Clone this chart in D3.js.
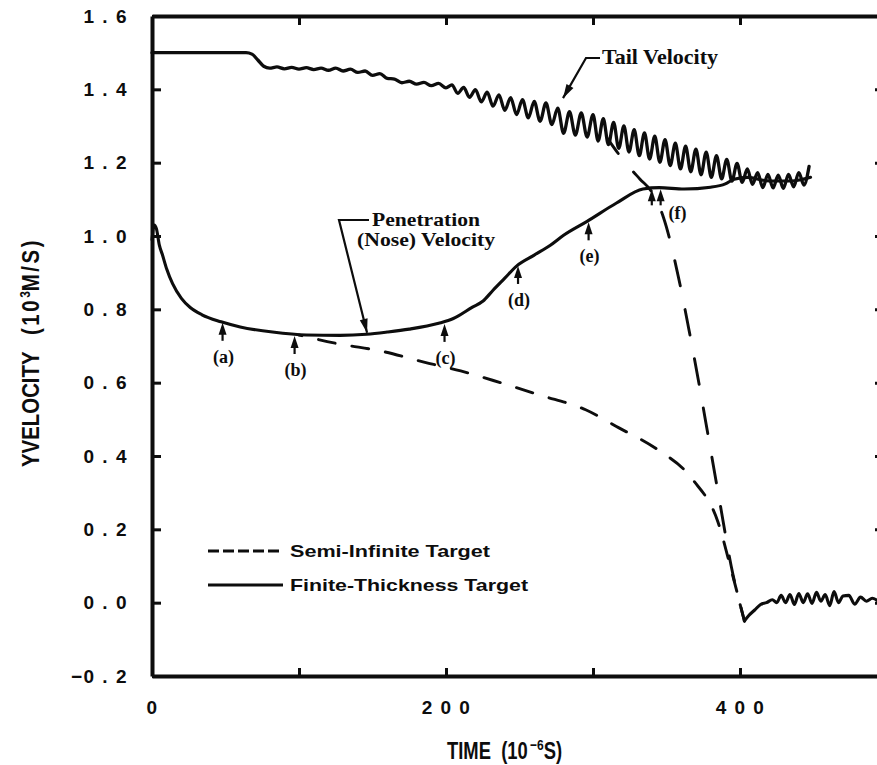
<!DOCTYPE html>
<html>
<head>
<meta charset="utf-8">
<script src="https://cdn.jsdelivr.net/npm/d3@7"></script>
<style>
  body { margin: 0; background: #fff; }
</style>
</head>
<body>
<svg id="chart" width="877" height="765"></svg>
<script>
// time in 10^-6 s, velocity in 10^3 m/s
const tailFinite = [
  [0,1.500],[30,1.500],[64,1.500],[68,1.496],[72,1.480],[76,1.463],[80,1.458],[85,1.461],[90,1.456],[95,1.460],
  [100,1.455],[105,1.459],[110,1.454],[115,1.458],[120,1.452],[125,1.458],[130,1.450],[135,1.455],[140,1.446],[145,1.450],
  [150,1.438],[155,1.443],[160,1.430],[165,1.428],[170,1.418],[175,1.422],[180,1.414],[185,1.419],[190,1.410],[195,1.416],
  [200,1.404],[204,1.412],[208,1.389],[212,1.405],[216,1.378],[220,1.399],[224,1.366],[228,1.392],[232,1.354],[236,1.385],
  [240,1.343],[244,1.377],[248,1.331],[252,1.372],[256,1.322],[260,1.367],[264,1.313],[268,1.363],[272,1.304],[276,1.349],
  [280,1.280],[284,1.339],[288,1.275],[292,1.336],[296,1.270],[300,1.331],[303.5,1.259],[307,1.320],[310.5,1.249],[314,1.310],
  [317.5,1.239],[321,1.300],[324.5,1.229],[328,1.290],[331.5,1.219],[335,1.281],[338.5,1.210],[342,1.272],[345.5,1.201],[349,1.263],
  [352.5,1.192],[356,1.253],[359.5,1.183],[363,1.245],[366.5,1.175],[370,1.237],[373.5,1.167],[377,1.229],[380.5,1.160],[384,1.219],
  [387.5,1.156],[391,1.209],[394.5,1.150],[398,1.198],[401.5,1.146],[405,1.183],[408.5,1.141],[412,1.173],[415.5,1.132],[419,1.168],
  [422.5,1.131],[426,1.166],[429.5,1.130],[433,1.168],[436.5,1.134],[440,1.173],[443.5,1.139],[447,1.190]
];

const noseFinite = [
  [0,0.990],[1.5,1.030],[3,1.020],[5,0.975],[7,0.950],[10,0.910],[14,0.870],[20,0.830],[26,0.805],[34,0.785],
  [47,0.766],[60,0.752],[82,0.738],[105,0.730],[128,0.729],[146,0.732],[160,0.738],[175,0.746],[195,0.762],[205,0.775],
  [218,0.806],[225,0.822],[232,0.852],[240,0.885],[248,0.918],[260,0.948],[271,0.975],[280,1.002],[296,1.040],[316,1.090],
  [334,1.128],[345,1.132],[362,1.128],[380,1.133],[390,1.142],[396,1.155],[405,1.160],[420,1.150],[435,1.150],[448,1.160]
];

const noseSemi = [
  [100,0.730],[128,0.705],[155,0.687],[185,0.656],[210,0.632],[237,0.600],[264,0.566],[295,0.526],[318,0.476],[343,0.420],
  [368,0.335],[385,0.220],[394,0.090],[403,-0.050]
];

const tailSemi = [
  [310,1.265],[323,1.195],[332,1.155],[340,1.120],[348,1.050],[358,0.890],[365,0.750],[372,0.600],[379,0.440],[386,0.280],
  [394,0.100],[403,-0.050]
];

const residual = [
  [403,-0.050],[406,-0.035],[410,-0.020],[414,-0.005],[418,0.000],[422,0.008],[425,0.000],[428,0.020],[431,0.000],[434,0.022],
  [437,-0.005],[440,0.025],[443,0.000],[446,0.024],[449,-0.002],[452,0.028],[455,0.004],[458,0.022],[461,-0.008],[464,0.030],
  [467,0.000],[470,0.018],[474,0.020],[478,-0.004],[482,0.015],[486,0.004],[490,0.012],[494,0.004]
];

const markers = [
  { label: '(a)', t: 48, v: 0.766 },
  { label: '(b)', t: 97, v: 0.730 },
  { label: '(c)', t: 199, v: 0.763 },
  { label: '(d)', t: 249, v: 0.921 },
  { label: '(e)', t: 297, v: 1.040 }
];
const markerF = [{ t: 340, v: 1.130 }, { t: 346, v: 1.130 }];

const yTickValues = [-0.2, 0, 0.2, 0.4, 0.6, 0.8, 1.0, 1.2, 1.4, 1.6];
const xTickValues = [0, 100, 200, 300, 400];
const xLabelled = [0, 200, 400];

const legendItems = [
  { name: 'Semi-Infinite Target', dash: '11,4', len: 200 },
  { name: 'Finite-Thickness Target', dash: null, len: 238 }
];

(() => {
  const svg = d3.select('#chart');
  svg.append('rect').attr('width', 877).attr('height', 765).attr('fill', '#fff');

  const x = d3.scaleLinear().domain([0, 500]).range([152, 887]);
  const y = d3.scaleLinear().domain([-0.2, 1.6]).range([676, 16]);
  const ink = '#0d0d0d';
  const sans = '"Liberation Sans", Arial, sans-serif';
  const serif = '"Liberation Serif", "Times New Roman", serif';

  const line = d3.line()
    .x(d => x(d[0]))
    .y(d => y(d[1]))
    .curve(d3.curveMonotoneX);

  // curves
  const curves = svg.append('g').attr('fill', 'none').attr('stroke', ink)
    .attr('stroke-linejoin', 'round').attr('stroke-linecap', 'round');
  curves.append('path').datum(tailFinite).attr('d', line).attr('stroke-width', 3.3);
  curves.append('path').datum(noseFinite).attr('d', line).attr('stroke-width', 3.1);
  curves.append('path').datum(noseSemi).attr('d', line).attr('stroke-width', 2.9)
    .attr('stroke-dasharray', '17,17').attr('stroke-dashoffset', -20);
  curves.append('path').datum(tailSemi).attr('d', line).attr('stroke-width', 2.9)
    .attr('stroke-dasharray', '26,24').attr('stroke-dashoffset', 8);
  curves.append('path').datum(residual).attr('d', line).attr('stroke-width', 3.1);

  // axes
  const fmtY = d => d3.format('.1f')(d).replace('.', ' . ');
  const fmtX = d => xLabelled.includes(d) ? String(d).split('').join(' ') : '';

  const styleAxis = (g) => {
    g.attr('color', ink);
    g.select('.domain').attr('stroke-width', 4);
    g.selectAll('.tick line').attr('stroke-width', 3);
    g.selectAll('text')
      .attr('font-family', sans)
      .attr('font-weight', 'bold')
      .attr('font-size', 19)
      .style('letter-spacing', '1.5px')
      .style('white-space', 'pre');
  };

  svg.append('g').attr('transform', 'translate(152,0)')
    .call(d3.axisLeft(y).tickValues(yTickValues).tickSize(-9).tickSizeOuter(0).tickPadding(24).tickFormat(fmtY))
    .call(styleAxis);

  svg.append('g').attr('transform', 'translate(0,676)')
    .call(d3.axisBottom(x).tickValues(xTickValues).tickSize(-8).tickSizeOuter(0).tickPadding(25).tickFormat(fmtX))
    .call(styleAxis);

  svg.append('g').attr('transform', 'translate(0,16)')
    .call(d3.axisTop(x).tickValues(xTickValues.slice(1)).tickSize(-9).tickSizeOuter(0).tickFormat(''))
    .call(styleAxis);

  svg.append('g').attr('transform', 'translate(887,0)')
    .call(d3.axisRight(y).tickValues(yTickValues).tickSize(-12).tickSizeOuter(0).tickFormat(''))
    .call(styleAxis);

  // axis titles
  const xt = svg.append('text')
    .attr('transform', 'translate(447,759) scale(0.8,1)')
    .attr('font-family', sans).attr('font-weight', 'bold').attr('font-size', 23).attr('fill', ink)
    .style('white-space', 'pre');
  xt.append('tspan').text('TIME  (10');
  xt.append('tspan').attr('font-size', 15).attr('dy', -9).attr('dx', 3).text('−6');
  xt.append('tspan').attr('dy', 9).text('S)');

  const yt = svg.append('text')
    .attr('transform', 'translate(39,467) rotate(-90) scale(0.85,1)')
    .attr('font-family', sans).attr('font-weight', 'bold').attr('font-size', 24).attr('fill', ink)
    .style('white-space', 'pre');
  yt.append('tspan').text('YVELOCITY');
  yt.append('tspan').style('letter-spacing', '3px').text('  (10');
  yt.append('tspan').attr('font-size', 14).attr('dy', -9).text('3');
  yt.append('tspan').attr('dy', 9).style('letter-spacing', '3px').text('M/S)');

  // legend
  const legend = svg.append('g').attr('transform', 'translate(208,551)');
  legendItems.forEach((d, i) => {
    const row = legend.append('g').attr('transform', `translate(0,${i * 34})`);
    row.append('line').attr('x1', 0).attr('x2', 75).attr('y1', 0).attr('y2', 0)
      .attr('stroke', ink).attr('stroke-width', 3)
      .attr('stroke-dasharray', d.dash);
    row.append('text').attr('x', 82).attr('y', 6)
      .attr('font-family', sans).attr('font-weight', 'bold').attr('font-size', 17).attr('fill', ink)
      .attr('textLength', d.len).attr('lengthAdjust', 'spacingAndGlyphs')
      .text(d.name);
  });

  // up-arrows under the nose curve
  const upArrow = (g, px, py, stem) => {
    g.append('path')
      .attr('d', `M${px},${py + 1}L${px - 4},${py + 13}L${px + 4},${py + 13}Z`)
      .attr('fill', ink);
    g.append('line').attr('x1', px).attr('x2', px).attr('y1', py + 10).attr('y2', py + stem)
      .attr('stroke', ink).attr('stroke-width', 2.2);
  };

  const marks = svg.append('g');
  markers.forEach(m => {
    const px = x(m.t), py = y(m.v);
    upArrow(marks, px, py, 19);
    marks.append('text').attr('x', px + 1).attr('y', py + 41)
      .attr('text-anchor', 'middle')
      .attr('font-family', serif).attr('font-weight', 'bold').attr('font-size', 18).attr('fill', ink)
      .text(m.label);
  });
  markerF.forEach(m => upArrow(marks, x(m.t), y(m.v), 17));
  marks.append('text').attr('x', x(markerF[1].t) + 8).attr('y', y(markerF[1].v) + 31)
    .attr('font-family', serif).attr('font-weight', 'bold').attr('font-size', 18).attr('fill', ink)
    .text('(f)');

  // leaders with arrowheads
  const leader = (pts) => {
    svg.append('path').attr('d', d3.line()(pts))
      .attr('fill', 'none').attr('stroke', ink).attr('stroke-width', 2.2);
    const [ax, ay] = pts[pts.length - 2], [bx, by] = pts[pts.length - 1];
    const ang = Math.atan2(by - ay, bx - ax);
    const L = 14, W = 4;
    const p1 = [bx - L * Math.cos(ang) + W * Math.sin(ang), by - L * Math.sin(ang) - W * Math.cos(ang)];
    const p2 = [bx - L * Math.cos(ang) - W * Math.sin(ang), by - L * Math.sin(ang) + W * Math.cos(ang)];
    svg.append('path').attr('d', `M${bx},${by}L${p1}L${p2}Z`).attr('fill', ink);
  };

  // tail velocity note
  const tailTip = [x(279.6), y(1.376)];
  leader([[600, 58], [586, 58], tailTip]);
  svg.append('text').attr('x', 602).attr('y', 64)
    .attr('font-family', serif).attr('font-weight', 'bold').attr('font-size', 20).attr('fill', ink)
    .attr('textLength', 116).attr('lengthAdjust', 'spacingAndGlyphs')
    .text('Tail Velocity');

  // penetration note
  const noseTip = [x(146.3), y(0.736)];
  leader([[369, 220], [339, 220], noseTip]);
  svg.append('text').attr('x', 426).attr('y', 226).attr('text-anchor', 'middle')
    .attr('font-family', serif).attr('font-weight', 'bold').attr('font-size', 19).attr('fill', ink)
    .attr('textLength', 108).attr('lengthAdjust', 'spacingAndGlyphs')
    .text('Penetration');
  svg.append('text').attr('x', 426).attr('y', 246).attr('text-anchor', 'middle')
    .attr('font-family', serif).attr('font-weight', 'bold').attr('font-size', 19).attr('fill', ink)
    .attr('textLength', 138).attr('lengthAdjust', 'spacingAndGlyphs')
    .text('(Nose) Velocity');
})();
</script>
</body>
</html>
